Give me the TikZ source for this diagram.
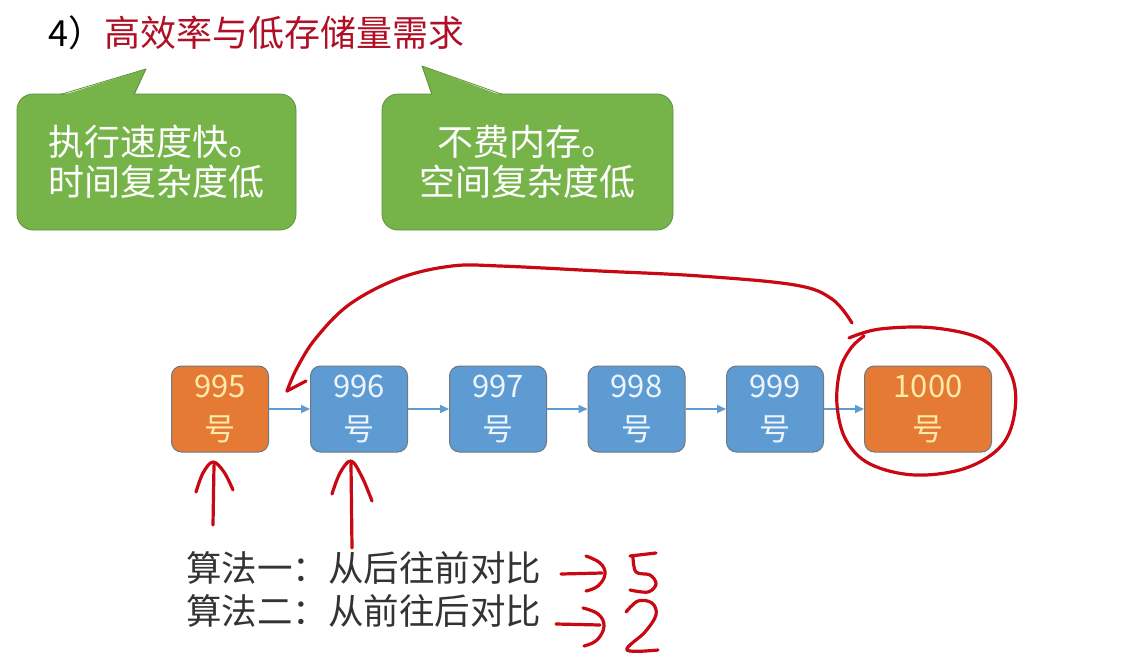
\documentclass[tikz,border=0pt]{standalone}
\usepackage{fontspec}
\setmainfont{Noto Sans CJK SC}
\usetikzlibrary{arrows.meta,positioning,calc}
\definecolor{titlered}{RGB}{176,16,38}
\definecolor{boxorange}{RGB}{229,122,52}
\definecolor{boxblue}{RGB}{94,155,211}
\definecolor{boxline}{RGB}{110,120,130}
\definecolor{bubble}{RGB}{118,180,74}
\definecolor{inkred}{RGB}{200,8,18}
\definecolor{orangetext}{RGB}{255,234,170}
\definecolor{bluetext}{RGB}{236,244,252}

\begin{document}
\begin{tikzpicture}[x=1pt,y=-1pt,>=Stealth]
\tikzstyle{bubblebox}=[draw=bubble!80!black,fill=bubble,rounded corners=16pt,align=center,text=white,font=\fontsize{36}{40}\selectfont,line width=0.8pt]
\tikzstyle{numbox}=[draw=boxline,rounded corners=10pt,minimum height=86pt,align=center,font=\fontsize{31}{43}\selectfont,line width=1pt]
\tikzstyle{ink}=[draw=inkred,line width=3.2pt,line cap=round,line join=round]
\useasboundingbox (0,0) rectangle (1122,672);
\fill[white] (0,0) rectangle (1122,672);

% title
\node[anchor=west,inner sep=0pt,font=\fontsize{36}{40}\selectfont] (title) at (48,33) {4）\textcolor{titlered}{高效率与低存储量需求}};

% speech bubbles
\node[bubblebox,minimum width=279pt,minimum height=136pt] (fast) at (156.5,162) {执行速度快。\\时间复杂度低};
\node[bubblebox,minimum width=291pt,minimum height=136pt] (small) at (527.5,162) {不费内存。\\空间复杂度低};
\foreach \bl/\tx/\ty/\br in {60/146/69/134, 432/422/66/503} {
  \fill[bubble] (\bl,96) -- (\tx,\ty) -- (\br,96) -- cycle;
  \draw[bubble!80!black,line width=0.8pt,line join=round] (\bl,94.6) -- (\tx,\ty) -- (\br,94.6);
}

% the queue of numbers
\foreach \nm/\col/\tc/\xx/\w [count=\i from 0] in {995/boxorange/orangetext/220/97, 996/boxblue/bluetext/359/97, 997/boxblue/bluetext/498/97, 998/boxblue/bluetext/636.5/97, 999/boxblue/bluetext/775/97, 1000/boxorange/orangetext/928/127} {
  \node[numbox,fill=\col,text=\tc,minimum width=\w pt] (b\i) at (\xx,409) {\nm\\号};
}
\foreach \i in {0,...,4} {\pgfmathtruncatemacro\j{\i+1}
  \draw[boxblue,line width=1.6pt,-{Triangle[length=9pt,width=8pt]}] (b\i.east) -- (b\j.west);
}

% comparison text
\node[anchor=west,inner sep=0pt,text=black!80,font=\fontsize{35.5}{40}\selectfont] (alg1) at (186,568) {算法一：从后往前对比};
\node[anchor=west,inner sep=0pt,text=black!80,font=\fontsize{35.5}{40}\selectfont] (alg2) at (186,611) {算法二：从前往后对比};

% hand-drawn marks
\path[ink] plot[smooth,tension=0.6] coordinates {(852,323) (832,299) (795,285) (700,276) (600,271) (500,266) (452,266) (400,278) (350,304) (316,338) (297,368) (287,391)};
\path[ink] (287,391) -- (306,381);
\path[ink] plot[smooth,tension=0.6] coordinates {(849,338) (880,329) (935,328) (985,341) (1011,374) (1015,410) (1002,445) (966,468) (915,475) (870,464) (846,440) (837,405) (840,370) (851,348) (864,336)};
\path[ink] (213,525) -- (214,465);
\path[ink] plot[smooth,tension=0.6] coordinates {(196,492) (203,473) (213,462) (224,472) (233,490)};
\path[ink] (352,548) -- (351,464);
\path[ink] plot[smooth,tension=0.6] coordinates {(332,494) (340,473) (351,461) (362,477) (372,501)};
% -> 5
\path[ink] (561,574) -- (602,573);
\path[ink] plot[smooth,tension=0.7] coordinates {(586,556) (600,563) (605,574) (598,586) (586,591)};
\path[ink] (630,556) -- (656,553);
\path[ink] plot[smooth,tension=0.6] coordinates {(633,557) (636,572) (650,575) (656,584) (648,592) (630,590)};
% -> 2
\path[ink] (556,624) -- (600,625);
\path[ink] plot[smooth,tension=0.7] coordinates {(583,608) (598,614) (604,626) (597,640) (584,646)};
\path[ink] plot[smooth,tension=0.6] coordinates {(626,612) (638,601) (652,603) (656,615) (645,632) (627,650) (658,650)};
\end{tikzpicture}
\end{document}
